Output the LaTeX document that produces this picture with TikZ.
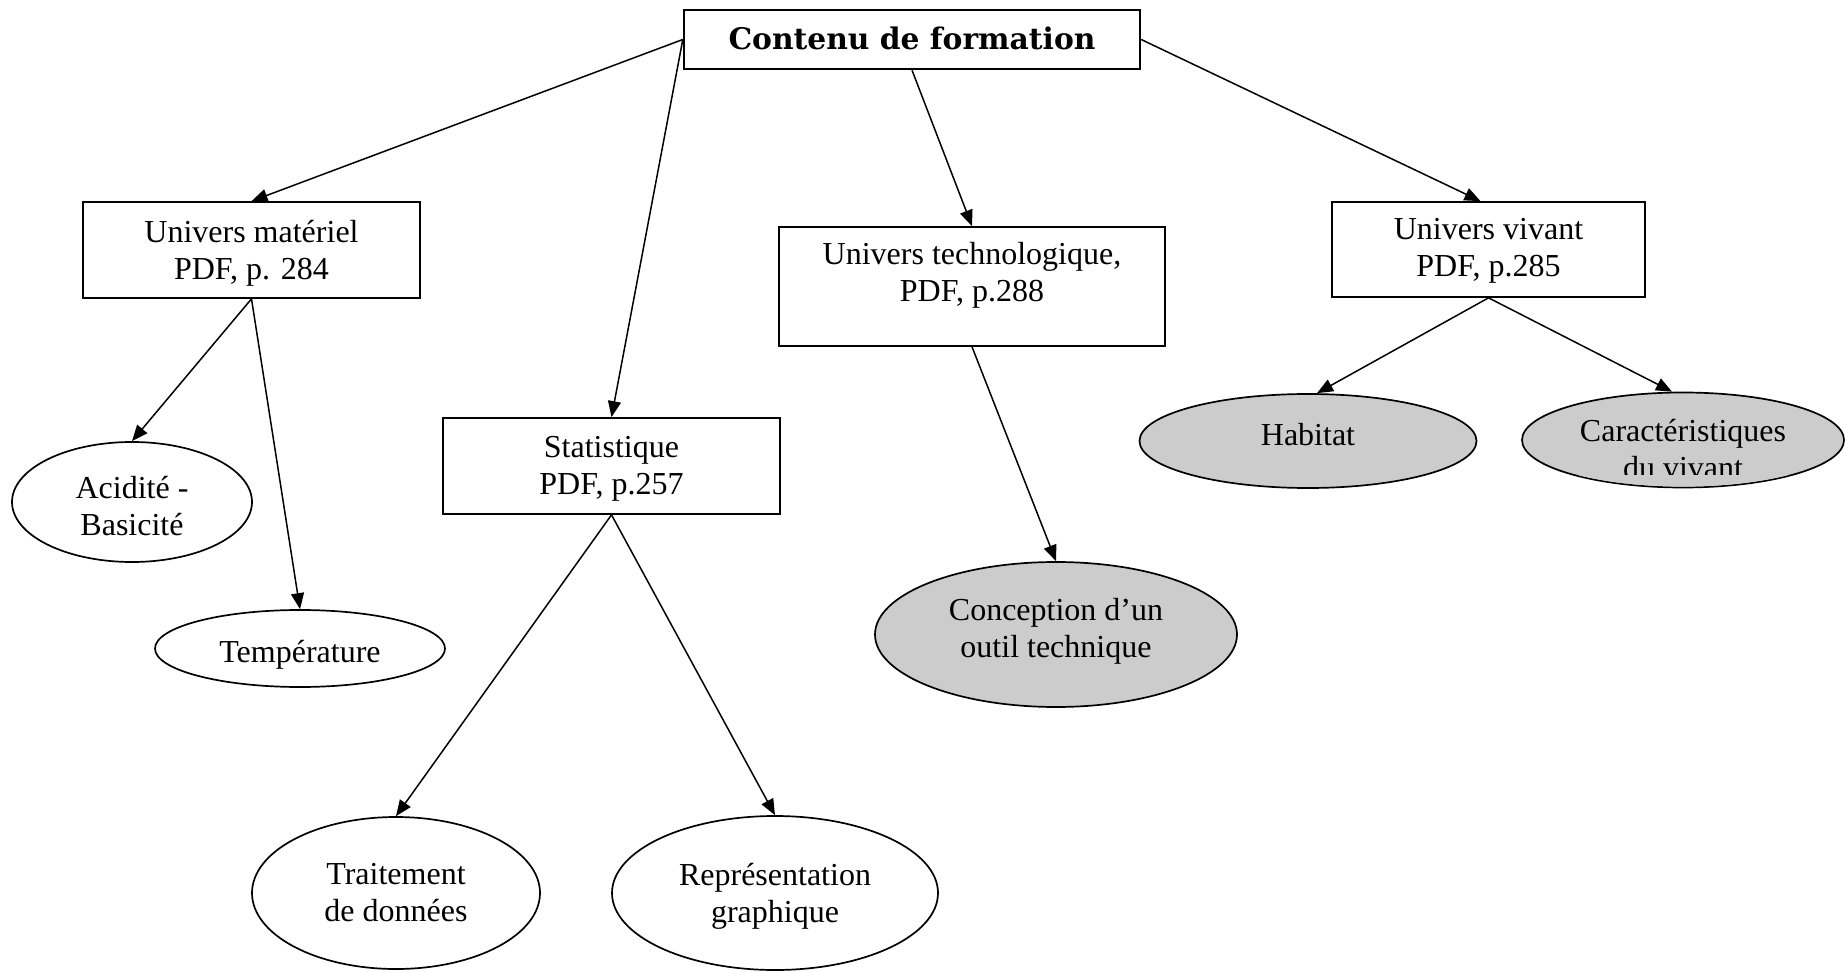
\documentclass[tikz,border=0pt]{standalone}
\usepackage{fontspec}
\setmainfont{Liberation Serif}
\newfontfamily\titlefont{DejaVu Serif}
\usetikzlibrary{shapes.geometric,arrows.meta}
\definecolor{ellgray}{RGB}{204,204,204}
\newcommand{\mlines}[1]{\begin{tabular}[t]{@{}c@{}}#1\end{tabular}}
\begin{document}
\begin{tikzpicture}[x=0.5pt,y=-0.5pt,
  base/.style={inner sep=0pt,text height=0pt,text depth=0pt,font=\fontsize{16}{18.5}\selectfont},
  boxnode/.style={base,draw,line width=0.85pt,rectangle},
  ellnode/.style={base,draw,line width=0.85pt,ellipse,fill=white},
  grayell/.style={ellnode,fill=ellgray},
  conn/.style={line width=0.75pt,-{Triangle[length=8pt,width=6.5pt]}}
]
\useasboundingbox (0,0) rectangle (1845,972);

% boxes
\node[boxnode,line width=1.2pt,minimum width=228pt,minimum height=29.5pt,text height=10.5pt] (title) at (912,39.5)
  {\resizebox{183.5pt}{!}{\titlefont\bfseries Contenu de formation}};
\node[boxnode,minimum width=168.5pt,minimum height=48pt,text depth=7pt] (mat) at (251.5,250)
  {\mlines{Univers matériel\\PDF, p. 284}};
\node[boxnode,minimum width=168.5pt,minimum height=48pt,text depth=8pt] (stat) at (611.5,466)
  {\mlines{Statistique\\PDF, p.257}};
\node[boxnode,minimum width=193pt,minimum height=59.5pt,text depth=21.5pt] (tech) at (972,286.5)
  {\mlines{Univers technologique,\\PDF, p.288}};
\node[boxnode,minimum width=156.5pt,minimum height=47.5pt,text depth=9.5pt] (viv) at (1488.5,249.5)
  {\mlines{Univers vivant\\PDF, p.285}};

% ellipses
\node[ellnode,minimum width=120pt,minimum height=60pt,text depth=4pt] (acid) at (132,502)
  {\mlines{Acidité -\\Basicité}};
\node[ellnode,minimum width=145pt,minimum height=38.5pt,text height=13.5pt] (temp) at (300,648.5)
  {\mlines{Température}};
\node[ellnode,minimum width=144pt,minimum height=76pt,text depth=9pt] (trait) at (396,893)
  {\mlines{Traitement\\de données}};
\node[ellnode,minimum width=163pt,minimum height=77pt,text depth=8pt] (repr) at (775,893)
  {\mlines{Représentation\\graphique}};
\node[grayell,minimum width=181pt,minimum height=72.5pt,text depth=14.5pt] (conc) at (1056,634.5)
  {\mlines{Conception d’un\\outil technique}};
\node[grayell,minimum width=168.5pt,minimum height=47pt,text height=4pt] (hab) at (1308,441)
  {\mlines{Habitat}};
\node[grayell,minimum width=161pt,minimum height=47.5pt,text height=2pt] (car) at (1683,440)
  {\mlines{Caractéristiques\\du vivant}};
\begin{scope}
  \clip (car.center) ellipse [x radius=80pt, y radius=23.3pt];
  \fill[ellgray] (1500,475) rectangle (1845,495);
\end{scope}

% connectors
\draw[conn] (title.west) -- (mat.north);
\draw[conn] (title.west) -- (stat.north);
\draw[conn] (title.south) -- (tech.north);
\draw[conn] (title.east) -- ([xshift=-4pt]viv.north);
\draw[conn] (mat.south) -- (acid.north);
\draw[conn] (mat.south) -- (temp.north);
\draw[conn] (stat.south) -- (trait.north);
\draw[conn] (stat.south) -- (repr.north);
\draw[conn] (tech.south) -- (conc.north);
\draw[conn] (viv.south) -- ([xshift=4.5pt]hab.north);
\draw[conn] (viv.south) -- ([xshift=-5.5pt]car.north);
\end{tikzpicture}
\end{document}
